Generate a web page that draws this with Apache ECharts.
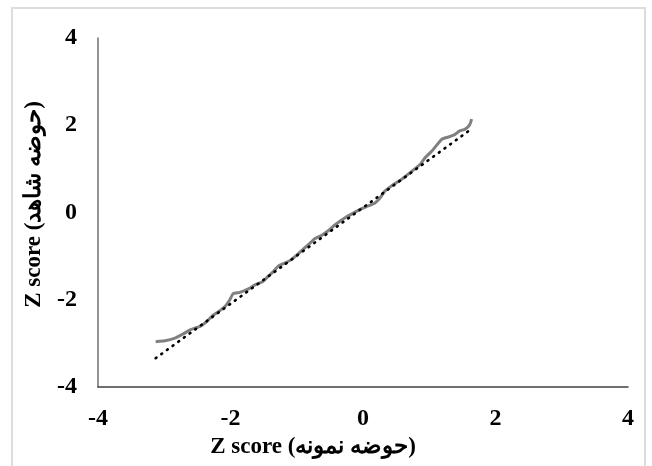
<!DOCTYPE html>
<html>
<head>
<meta charset="utf-8">
<script src="https://cdn.jsdelivr.net/npm/echarts@6/dist/echarts.min.js"></script>
<style>
  html, body { margin: 0; padding: 0; background: #fff; }
  #chart { width: 652px; height: 466px; }
</style>
</head>
<body>
<div id="chart"></div>
<script>
// Z scores: sample basin (x) vs control basin (y)
const sampleZ = [-3.13, -2.99, -2.84, -2.71, -2.61, -2.54, -2.46, -2.36, -2.26, -2.16,
  -2.08, -2.01, -1.96, -1.86, -1.73, -1.63, -1.51, -1.43, -1.35, -1.28,
  -1.18, -1.08, -0.98, -0.88, -0.77, -0.73, -0.62, -0.50, -0.42, -0.27,
  -0.12, -0.02, 0.08, 0.18, 0.26, 0.33, 0.43, 0.58, 0.74, 0.86,
  0.94, 1.04, 1.09, 1.19, 1.29, 1.39, 1.46, 1.54, 1.61, 1.64];
const controlZ = [-2.96, -2.94, -2.88, -2.78, -2.69, -2.65, -2.61, -2.50, -2.35, -2.25,
  -2.15, -2.00, -1.86, -1.83, -1.75, -1.66, -1.58, -1.46, -1.35, -1.23,
  -1.16, -1.08, -0.95, -0.81, -0.66, -0.60, -0.52, -0.39, -0.28, -0.12,
  0.01, 0.09, 0.15, 0.22, 0.34, 0.49, 0.61, 0.76, 0.95, 1.10,
  1.26, 1.41, 1.50, 1.68, 1.73, 1.79, 1.87, 1.91, 2.01, 2.14];

// dotted trend line end points
const trendX = [-3.13, 1.65];
const trendY = [-3.34, 1.93];

const axisTicks = [-4, -2, 0, 2, 4];
const xTitle = 'Z score (حوضه نمونه)';
const yTitle = 'Z score (حوضه شاهد)';

const zip = (xs, ys) => xs.map((x, i) => [x, ys[i]]);

const chart = echarts.init(document.getElementById('chart'));

const labelFont = {
  color: '#000',
  fontFamily: '"Liberation Serif", "DejaVu Serif", serif',
  fontWeight: 'bold',
  fontSize: 24
};

chart.setOption({
  animation: false,
  backgroundColor: '#fff',
  grid: { left: 98, right: 24, top: 38, bottom: 79 },
  graphic: [{
    type: 'rect',
    silent: true,
    shape: { x: 12, y: 8, width: 633, height: 470 },
    style: { fill: 'none', stroke: '#dcdcdc', lineWidth: 2 }
  }],
  xAxis: {
    type: 'value',
    min: axisTicks[0],
    max: axisTicks[axisTicks.length - 1],
    interval: 2,
    name: xTitle,
    nameLocation: 'middle',
    nameGap: 46,
    nameTextStyle: Object.assign({}, labelFont, { fontSize: 23, padding: [0, 100, 0, 0] }),
    axisLine: { onZero: false, lineStyle: { color: '#404040', width: 1.5 } },
    axisTick: { show: false },
    splitLine: { show: false },
    axisLabel: Object.assign({}, labelFont, { margin: 20 })
  },
  yAxis: {
    type: 'value',
    min: axisTicks[0],
    max: axisTicks[axisTicks.length - 1],
    interval: 2,
    name: yTitle,
    nameLocation: 'middle',
    nameRotate: 90,
    nameGap: 52,
    nameTextStyle: Object.assign({}, labelFont, { fontSize: 23, padding: [0, 0, 0, 16] }),
    axisLine: { onZero: false, lineStyle: { color: '#707070', width: 1.5 } },
    axisTick: { show: false },
    splitLine: { show: false },
    axisLabel: Object.assign({}, labelFont, { margin: 21 })
  },
  series: [
    {
      name: 'Z score',
      type: 'line',
      data: zip(sampleZ, controlZ),
      showSymbol: false,
      smooth: 0.15,
      lineStyle: { color: '#808080', width: 3 },
      z: 2
    },
    {
      name: 'Trend',
      type: 'line',
      data: zip(trendX, trendY),
      showSymbol: false,
      lineStyle: { color: '#000', width: 2.6, type: [1, 6], cap: 'round' },
      z: 3
    }
  ]
});
</script>
</body>
</html>
